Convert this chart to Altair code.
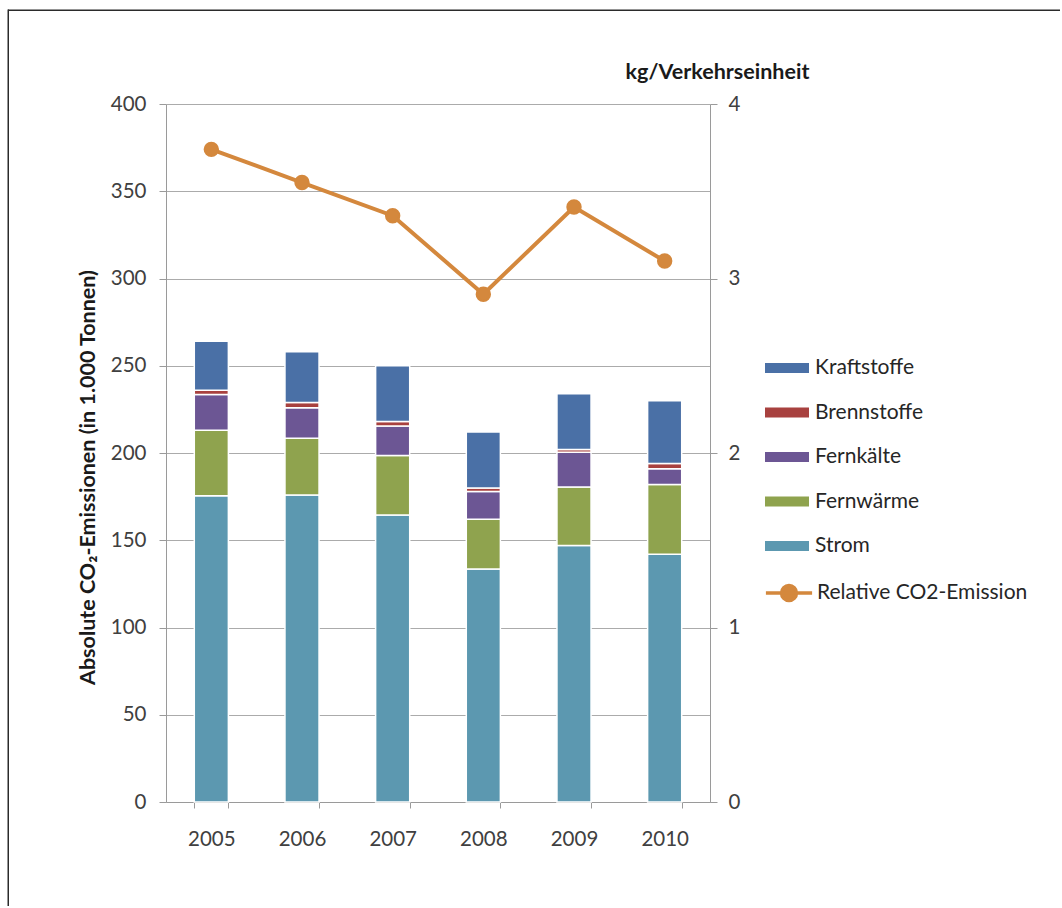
import altair as alt
import pandas as pd

# Jahre und absolute CO2-Emissionen je Energieträger (in 1.000 Tonnen)
years = ["2005", "2006", "2007", "2008", "2009", "2010"]
strom = [175.5, 176, 164.5, 133.5, 147, 142]
fernwaerme = [37.5, 32.5, 34, 28.5, 33.5, 40]
fernkaelte = [20.5, 17.5, 17, 16, 20, 9]
brennstoffe = [2.5, 3, 2.5, 2, 1.5, 3]
kraftstoffe = [28, 29, 32, 32, 32, 36]

# Relative CO2-Emission (kg je Verkehrseinheit)
relative = [3.74, 3.55, 3.36, 2.91, 3.41, 3.10]

series = ["Kraftstoffe", "Brennstoffe", "Fernkälte", "Fernwärme", "Strom"]
series_colors = ["#4a70a6", "#a8413f", "#6c5694", "#8fa34e", "#5c98b0"]
line_name = "Relative CO2-Emission"
line_color = "#d4883d"

values_by_series = {
    "Strom": strom,
    "Fernwärme": fernwaerme,
    "Fernkälte": fernkaelte,
    "Brennstoffe": brennstoffe,
    "Kraftstoffe": kraftstoffe,
}
stack_rank = {"Strom": 0, "Fernwärme": 1, "Fernkälte": 2, "Brennstoffe": 3, "Kraftstoffe": 4}

rows = []
for name, vals in values_by_series.items():
    for yr, v in zip(years, vals):
        rows.append({"Jahr": yr, "Energieträger": name, "Wert": v, "Rang": stack_rank[name]})
bars_df = pd.DataFrame(rows)
line_df = pd.DataFrame({"Jahr": years, "Relativ": relative, "Reihe": [line_name] * len(years)})

FONT = "Lato"
TEXT = "#404040"
GRID = "#ababab"
AXIS = "#9a9a9a"

TOTAL_W, TOTAL_H = 1062, 908
PLOT_W, PLOT_H = 544, 698
PAD_L, PAD_T = 166, 104

x_enc = alt.X(
    "Jahr:N",
    sort=years,
    scale=alt.Scale(paddingInner=0.624, paddingOuter=0.312),
    axis=alt.Axis(
        title=None, labelAngle=0, tickBand="extent", tickSize=6,
        domainColor=AXIS, tickColor=AXIS, labelFont=FONT, labelFontSize=20.5,
        labelColor=TEXT, labelPadding=21,
    ),
)

bars = alt.Chart(bars_df).mark_bar(stroke="white", strokeWidth=1.5).encode(
    x=x_enc,
    y=alt.Y(
        "Wert:Q",
        stack="zero",
        scale=alt.Scale(domain=[0, 400], nice=False),
        axis=alt.Axis(
            values=list(range(0, 401, 50)), grid=True, gridColor=GRID, gridWidth=1.2,
            domainColor=AXIS, tickColor=AXIS, tickSize=7, labelPadding=13,
            labelFont=FONT, labelFontSize=20.5, labelColor=TEXT,
            title="Absolute CO₂-Emissionen (in 1.000 Tonnen)",
            titleFont=FONT, titleFontSize=21.5, titleFontWeight="bold", titleColor="#1a1a1a",
            titleAngle=270, titleX=-78, titleY=373, titleAlign="center", titleBaseline="middle",
        ),
    ),
    color=alt.Color(
        "Energieträger:N",
        scale=alt.Scale(domain=series, range=series_colors),
        legend=alt.Legend(
            title=None, orient="none", legendX=599, legendY=242, padding=0,
            symbolType="M-1,-0.23L1,-0.23L1,0.23L-1,0.23Z", symbolSize=1936,
            symbolStrokeWidth=0, labelFont=FONT, labelFontSize=21, labelColor="#262626",
            labelOffset=6, rowPadding=12.5, labelLimit=300,
        ),
    ),
    order=alt.Order("Rang:Q", sort="ascending"),
)

line = alt.Chart(line_df).mark_line(
    strokeWidth=4,
    point=alt.OverlayMarkDef(filled=True, size=180, color=line_color),
).encode(
    x=x_enc,
    y=alt.Y(
        "Relativ:Q",
        scale=alt.Scale(domain=[0, 4], nice=False),
        axis=alt.Axis(
            orient="right", values=[0, 1, 2, 3, 4], format="d", grid=False,
            domainColor=AXIS, tickColor=AXIS, tickSize=7, labelPadding=11,
            labelFont=FONT, labelFontSize=20.5, labelColor=TEXT,
            title="kg/Verkehrseinheit", titleFont=FONT, titleFontSize=21.5,
            titleFontWeight="bold", titleColor="#1a1a1a", titleAngle=0,
            titleX=7, titleY=-32, titleAlign="center", titleBaseline="middle",
        ),
    ),
    stroke=alt.Stroke(
        "Reihe:N",
        scale=alt.Scale(domain=[line_name], range=[line_color]),
        legend=alt.Legend(
            title=None, orient="none", legendX=599, legendY=465, padding=0,
            symbolType="M-1.05,0L1.05,0M-0.34,0A0.34,0.34,0,1,0,0.34,0A0.34,0.34,0,1,0,-0.34,0Z",
            symbolSize=1936, symbolStrokeWidth=3.5, symbolFillColor=line_color,
            labelFont=FONT, labelFontSize=21, labelColor="#262626",
            labelOffset=4, labelLimit=300,
        ),
    ),
)

# outer frame: thin filled strips along the top and left edges of the figure box
frame_df = pd.DataFrame({"f": [0]})
frame_top = alt.Chart(frame_df).mark_rect(color="#2b2b2b", strokeWidth=0).encode(
    x=alt.value(8 - PAD_L), x2=alt.value(TOTAL_W - PAD_L - 2),
    y=alt.value(9.5 - PAD_T), y2=alt.value(11 - PAD_T),
)
frame_left = alt.Chart(frame_df).mark_rect(color="#2b2b2b", strokeWidth=0).encode(
    x=alt.value(7.5 - PAD_L), x2=alt.value(9 - PAD_L),
    y=alt.value(9.5 - PAD_T), y2=alt.value(TOTAL_H - PAD_T - 2),
)

chart = (
    alt.layer(bars, line, frame_top, frame_left)
    .resolve_scale(y="independent")
    .properties(
        width=PLOT_W, height=PLOT_H,
        autosize=alt.AutoSizeParams(type="none"),
        padding={"left": PAD_L, "top": PAD_T, "right": TOTAL_W - PAD_L - PLOT_W, "bottom": TOTAL_H - PAD_T - PLOT_H},
        background="white",
    )
    .configure_view(strokeWidth=0, stroke="transparent")
)

chart.save("out.html", embed_options={"renderer": "svg", "actions": False})
